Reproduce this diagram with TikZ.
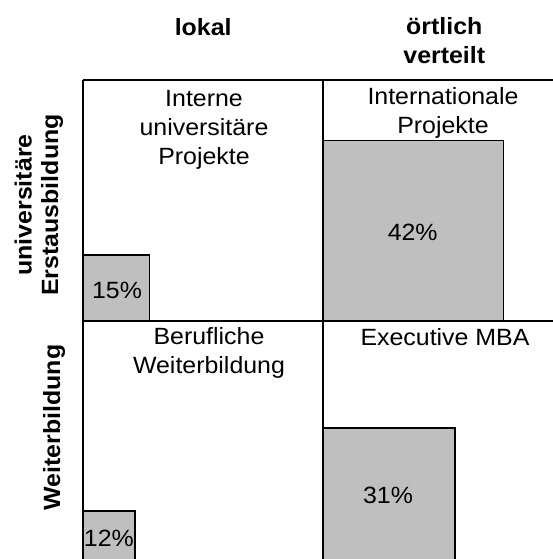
\documentclass[tikz,border=0pt]{standalone}
\usepackage{fontspec}
\setmainfont{Liberation Sans}[FakeStretch=1.06]
\definecolor{barfill}{RGB}{191,191,191}
\begin{document}
\begin{tikzpicture}[x=1pt,y=-1pt,line width=1.6pt,
  lab/.style={font=\fontsize{23.5}{29}\selectfont,inner sep=0pt,align=center,anchor=base},
  head/.style={font=\fontsize{23.5}{29}\selectfont\bfseries,inner sep=0pt,align=center,anchor=base},
  side/.style={font=\fontsize{23.5}{26.3}\selectfont\bfseries,inner sep=0pt,align=center,anchor=base,rotate=90},
  bar/.style={draw=black,fill=barfill}]
\useasboundingbox (0,0) rectangle (553,559);
% bars
\path[bar] (83,255) rectangle (149.3,321);
\path[bar] (322.7,140.3) rectangle (503.3,321);
\path[bar] (83,510.7) rectangle (135,562);
\path[bar] (322.7,427.7) rectangle (455,562);
% grid
\draw (83,80) -- (553,80);
\draw (83,321) -- (553,321);
\draw (83,80) -- (83,562);
\draw (322.7,80) -- (322.7,562);
% column heads (base = baseline of last line)
\node[head] (lokal) at (203.2,35.5) {lokal};
\node[head] (oert) at (444.3,64) {örtlich\\verteilt};
% row heads
\node[side] (erst) at (58,205) {universitäre\\Erstausbildung};
\node[side] (weit) at (60,427.5) {Weiterbildung};
% cell labels
\node[lab] (intern) at (204,164) {Interne\\universitäre\\Projekte};
\node[lab] (internat) at (443,133.5) {Internationale\\Projekte};
\node[lab] (beruf) at (209,373.5) {Berufliche\\Weiterbildung};
\node[lab] (emba) at (445,345) {Executive MBA};
% percentages
\node[lab] (p15) at (117,298.3) {15\%};
\node[lab] (p42) at (412.7,240) {42\%};
\node[lab] (p12) at (108.9,546.7) {12\%};
\node[lab] (p31) at (388,503.3) {31\%};
\end{tikzpicture}
\end{document}
